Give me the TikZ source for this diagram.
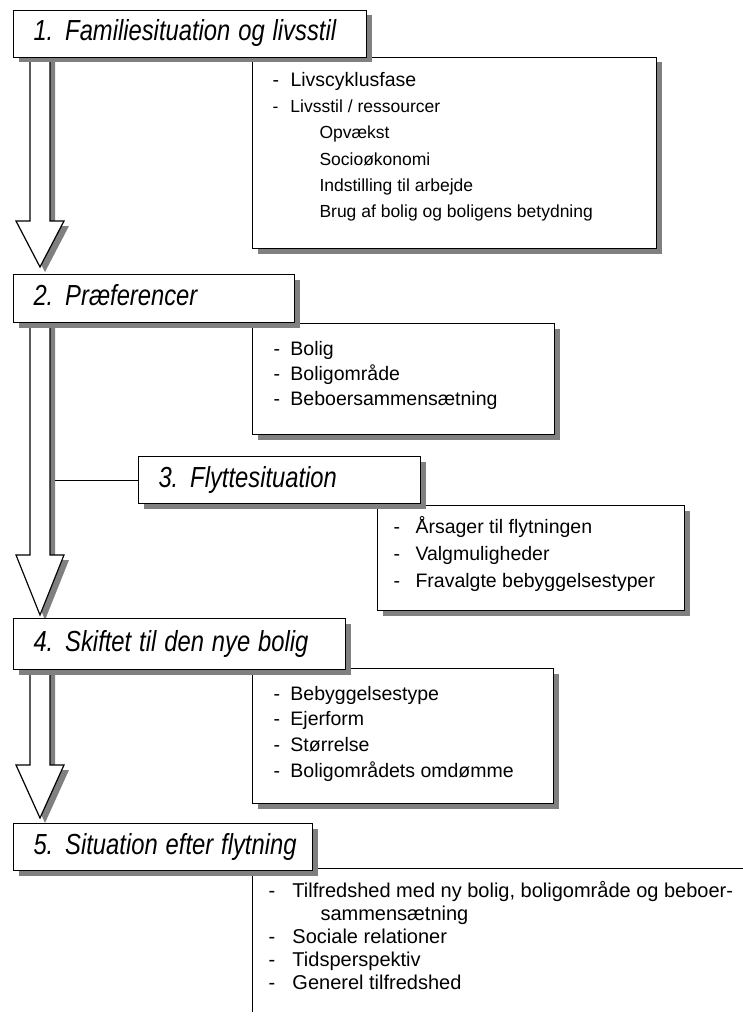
\documentclass[tikz,border=0pt]{standalone}
\usepackage{fontspec}
\usepackage{graphicx}
\setmainfont{Liberation Sans}
\usetikzlibrary{shadows}
\newcommand{\narrowhead}[1]{\scalebox{0.82}[1]{#1}}
\begin{document}
\begin{tikzpicture}[x=1pt, y=-1pt, line width=1pt,
    boxshadow/.style={drop shadow={shadow xshift=5pt, shadow yshift=-5pt, fill=gray, opacity=1}},
    head/.style={draw, fill=white, boxshadow, anchor=north west, inner xsep=20pt, inner ysep=0pt,
        text height=20pt, text depth=6pt, align=left, font=\itshape\fontsize{29}{34}\selectfont},
    listbox/.style={draw, fill=white, boxshadow, anchor=north west, inner sep=0pt},
    item/.style={anchor=base west, inner sep=0pt, font=\fontsize{19.5}{23}\selectfont},
    subitem/.style={item, font=\fontsize{17.5}{21}\selectfont},
    openitem/.style={item, font=\fontsize{20}{23}\selectfont}]
    \useasboundingbox (0,0) rectangle (743,1019);

    % boxes with the points
    \node[listbox, minimum width=404pt, minimum height=191pt] (c1) at (252,57) {};
    \node[listbox, minimum width=302pt, minimum height=111pt] (c2) at (252,323) {};
    \node[listbox, minimum width=307pt, minimum height=105pt] (c3) at (377,505) {};
    \node[listbox, minimum width=301pt, minimum height=135pt] (c4) at (252,668) {};
    \coordinate (c5) at (252,868);
    \draw (743,868) -- (c5) -- (252,1012);

    \node[item] (c1-1) at (272,87) {\makebox[18pt][l]{-}Livscyklusfase};
    \node[subitem] (c1-2) at (272,113) {\makebox[18pt][l]{-}Livsstil / ressourcer};
    \foreach \t [count=\i from 3] in {Opvækst, Socioøkonomi, Indstilling til arbejde,
        Brug af bolig og boligens betydning}{
        \node[subitem] (c1-\i) at (319,{139+26.3*(\i-3)}) {\t};
        };
    \foreach \t [count=\i] in {Bolig, Boligområde, Beboersammensætning}{
        \node[item] (c2-\i) at (273,{355+25*(\i-1)}) {\makebox[17pt][l]{-}\t};
        };
    \foreach \t [count=\i] in {Årsager til flytningen, Valgmuligheder, Fravalgte bebyggelsestyper}{
        \node[item] (c3-\i) at (393,{533+27*(\i-1)}) {\makebox[22pt][l]{-}\t};
        };
    \foreach \t [count=\i] in {Bebyggelsestype, Ejerform, Størrelse, Boligområdets omdømme}{
        \node[item] (c4-\i) at (273,{700+25.7*(\i-1)}) {\makebox[17pt][l]{-}\t};
        };
    \node[openitem] (c5-1) at (268,897) {\makebox[24pt][l]{-}Tilfredshed med ny bolig, boligområde og beboer-};
    \node[openitem] (c5-2) at (320,920) {sammensætning};
    \foreach \t [count=\i from 3] in {Sociale relationer, Tidsperspektiv, Generel tilfredshed}{
        \node[openitem] (c5-\i) at (268,{943+23*(\i-3)}) {\makebox[24pt][l]{-}\t};
        };

    % hollow arrows
    \foreach \ya/\yb/\yc in {50/221/267, 315/555/615, 662/765/818}{
        \draw[line width=1.2pt, fill=white, boxshadow] (30,\ya) -- (30,\yb) -- (16,\yb) -- (40,\yc)
            -- (64,\yb) -- (50,\yb) -- (50,\ya) -- cycle;
        };

    % headings
    \node[head, text width=313pt, minimum height=47pt] (h1) at (13,10) {\narrowhead{1. Familiesituation og livsstil}};
    \node[head, text width=241pt, minimum height=48pt] (h2) at (13,274) {\narrowhead{2. Præferencer}};
    \node[head, text width=242pt, minimum height=47pt] (h3) at (138,456) {\narrowhead{3. Flyttesituation}};
    \node[head, text width=292pt, minimum height=51pt] (h4) at (13,618) {\narrowhead{4. Skiftet til den nye bolig}};
    \node[head, text width=259pt, minimum height=47pt] (h5) at (13,823) {\narrowhead{5. Situation efter flytning}};

    \coordinate (shaft) at (55,479);
    \draw (h3.west) -- (h3.west -| shaft);
\end{tikzpicture}
\end{document}
